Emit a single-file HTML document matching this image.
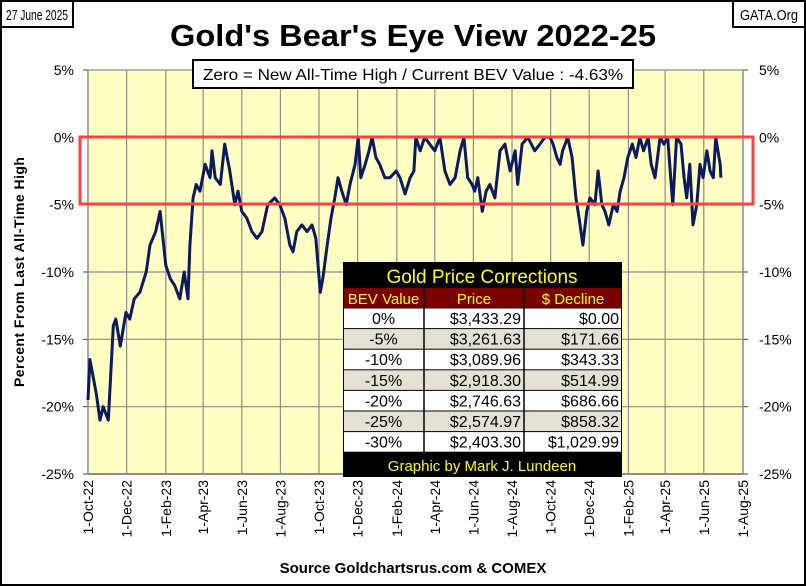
<!DOCTYPE html>
<html><head><meta charset="utf-8"><style>
body{margin:0;background:#fff}
svg{display:block;font-family:"Liberation Sans",sans-serif}
</style></head><body>
<svg id="chart" width="806" height="586" viewBox="0 0 806 586">
<rect x="1" y="1" width="804" height="584" fill="#fff" stroke="#000" stroke-width="2"/>
<rect x="1" y="1" width="72" height="26" fill="#fff" stroke="#000" stroke-width="2"/>
<text x="37" y="20" font-size="15" text-anchor="middle" textLength="62" lengthAdjust="spacingAndGlyphs">27 June 2025</text>
<rect x="733" y="1" width="72" height="26" fill="#fff" stroke="#000" stroke-width="2"/>
<text x="769" y="20" font-size="15" text-anchor="middle" textLength="58" lengthAdjust="spacingAndGlyphs">GATA.Org</text>
<text x="413" y="46" font-size="31" font-weight="bold" text-anchor="middle" textLength="486" lengthAdjust="spacingAndGlyphs">Gold's Bear's Eye View 2022-25</text>
<rect x="88" y="70" width="655" height="404" fill="#ffffc4"/>
<g id="grid"></g>
<g id="series"></g>
<rect x="80" y="137" width="673" height="67" fill="none" stroke="#ff4040" stroke-width="3"/>
<rect x="193" y="60" width="440" height="28" fill="#fff" stroke="#000" stroke-width="2"/>
<text x="413" y="80" font-size="16" text-anchor="middle" textLength="420" lengthAdjust="spacingAndGlyphs">Zero = New All-Time High / Current  BEV Value : -4.63%</text>
<text transform="translate(24,272) rotate(-90)" font-size="14" font-weight="bold" text-anchor="middle" textLength="230">Percent   From  Last  All-Time  High</text>
<text x="413" y="573" font-size="15" font-weight="bold" text-anchor="middle">Source Goldchartsrus.com &amp; COMEX</text>
<g id="table">
<rect x="343" y="262" width="279" height="215" fill="#000"/>
</g>
</svg>
<script>
const startLabel = "2022-10-01";
const days = [0,3,13,19,24,32,35,40,44,51,60,66,73,82,92,98,107,114,123,130,137,145,152,158,161,166,171,177,185,193,196,201,209,216,224,232,237,243,251,259,267,275,284,295,303,311,319,324,330,338,346,354,360,367,371,378,384,390,395,401,408,414,422,427,431,438,444,449,455,461,469,477,487,493,501,509,515,518,525,532,540,548,556,564,572,580,588,594,600,607,611,616,623,629,635,643,651,659,667,675,679,686,695,706,714,722,730,735,741,746,750,758,765,771,776,782,788,793,801,806,812,817,823,830,836,841,847,853,860,866,872,878,885,890,896,904,910,916,920,924,930,937,942,946,951,956,962,967,972,978,983,988,992,997,999,1000];
const bev = [-19.5,-16.5,-19,-21,-20,-21,-18.5,-14,-13.5,-15.5,-13,-13.5,-12,-11.5,-10,-8,-7,-5.5,-9.5,-10.5,-11,-12,-10,-12,-8,-4.5,-3.5,-4,-2,-3,-1,-3,-3.5,-0.5,-2.5,-5,-4,-5.5,-6,-7,-7.5,-7,-5,-4.5,-5,-6,-8,-8.5,-7,-6.5,-7,-6.5,-7.5,-11.5,-10.5,-8,-6,-4.5,-3,-4,-5,-3.5,-2,0,-3,-2,-1,0,-1.5,-2,-3,-3,-2.5,-3,-4.2,-3,-2.5,0,-1,0,-0.5,-1,0,-2.5,-3.5,-3,-1,0,-3,-3.5,-4,-3,-5.5,-4,-3.5,-4.5,-1,-0.5,-2.5,-1,-3.5,-0.5,0,-1,-0.5,0,0,-0.5,-1.5,-2,-1,0,-1.5,-4.5,-6,-8,-5.5,-4.5,-5,-2.5,-5,-5.5,-6.5,-5,-5.5,-4,-3,-1.5,-0.5,-1.5,0,-1,0,-2,-3,0,-0.5,0,-2.5,-5,0,-0.5,-3,-4.5,-2,-6.5,-5,-2,-3,-1,-2.5,-3,0,-1.5,-2,-3,-4.63];
const yTicks = [5,0,-5,-10,-15,-20,-25];
const xTickLabels = ["1-Oct-22","1-Dec-22","1-Feb-23","1-Apr-23","1-Jun-23","1-Aug-23","1-Oct-23","1-Dec-23","1-Feb-24","1-Apr-24","1-Jun-24","1-Aug-24","1-Oct-24","1-Dec-24","1-Feb-25","1-Apr-25","1-Jun-25","1-Aug-25"];
const xTickDays = [0,61,123,182,243,304,365,426,488,548,609,670,731,792,854,912,973,1035];
const tableBev = ["0%","-5%","-10%","-15%","-20%","-25%","-30%"];
const tablePrice = ["$3,433.29","$3,261.63","$3,089.96","$2,918.30","$2,746.63","$2,574.97","$2,403.30"];
const tableDecline = ["$0.00","$171.66","$343.33","$514.99","$686.66","$858.32","$1,029.99"];

const NS="http://www.w3.org/2000/svg";
const X0=88,X1=743,Y0=70,Y1=474;
const xs=d=>X0+d*(X1-X0)/1035;
const ys=v=>Y0+(5-v)*(Y1-Y0)/30;
function mk(tag,attrs,parent,txt){const e=document.createElementNS(NS,tag);for(const k in attrs)e.setAttribute(k,attrs[k]);if(txt!=null)e.textContent=txt;parent.appendChild(e);return e;}
const grid=document.getElementById('grid');
yTicks.forEach(v=>{
  const y=ys(v);
  const l=mk('line',{x1:X0,x2:X1,y1:y,y2:y,stroke:'#8c8c8c','stroke-width':v===-25?2:1.2},grid);
  
  
  const t1=mk('text',{x:74,y:y+5,'font-size':14,'text-anchor':'end'},grid,v+'%');
  
  
  const t2=mk('text',{x:759,y:y+5,'font-size':14},grid,v+'%');
  
  
  mk('line',{x1:X0-5,x2:X0,y1:y,y2:y,stroke:'#444'},grid);
  mk('line',{x1:X1,x2:X1+5,y1:y,y2:y,stroke:'#444'},grid);
});
xTickDays.forEach((d,i)=>{
  const x=xs(d);
  const l=mk('line',{x1:x,x2:x,y1:Y0,y2:Y1,stroke:'#8c8c8c','stroke-width':(i===0||i===xTickDays.length-1)?1.5:1.2},grid);
  
  
  const t=mk('text',{transform:`translate(${x+5},${Y1+6}) rotate(-90)`,'font-size':14,'text-anchor':'end'},grid,xTickLabels[i]);
  
  
});
const pts=days.map((d,i)=>xs(d).toFixed(1)+','+ys(bev[i]).toFixed(1)).join(' ');
const line=mk('polyline',{points:pts,fill:'none',stroke:'#0a1a5c','stroke-width':3,'stroke-linejoin':'round'},document.getElementById('series'));



const tb=document.getElementById('table');
const cols=[343,424,524,622];
const t0=mk('text',{x:482,y:283,'font-size':19,fill:'#ffff00','text-anchor':'middle'},tb,'Gold Price Corrections');


mk('rect',{x:344,y:288,width:277,height:20,fill:'#7a0000'},tb);
['BEV Value','Price','$ Decline'].forEach((h,i)=>{
  const t=mk('text',{x:(cols[i]+cols[i+1])/2,y:304,'font-size':15,fill:'#ffff00','text-anchor':'middle'},tb,h);
  
  
});
const rh=20.6;
tableBev.forEach((b,r)=>{
  const y=308+r*rh;
  const bg=mk('rect',{x:344,y:y+0.5,width:277,height:rh-1,fill:r%2?'#e4e0d4':'#fff'},tb);
  
  
  const vals=[b,tablePrice[r],tableDecline[r]];
  vals.forEach((v,i)=>{
    const t=mk('text',{x:i===0?(cols[0]+cols[1])/2:cols[i+1]-3,y:y+16,'font-size':16,fill:'#000','text-anchor':i===0?'middle':'end'},tb,v);
    
    
  });
});
[424,524].forEach(x=>mk('line',{x1:x,x2:x,y1:288,y2:454,stroke:'#000','stroke-width':1.5},tb));
const ft=mk('text',{x:482,y:471,'font-size':15,fill:'#ffff00','text-anchor':'middle'},tb,'Graphic by Mark J. Lundeen');


</script>
</body></html>
